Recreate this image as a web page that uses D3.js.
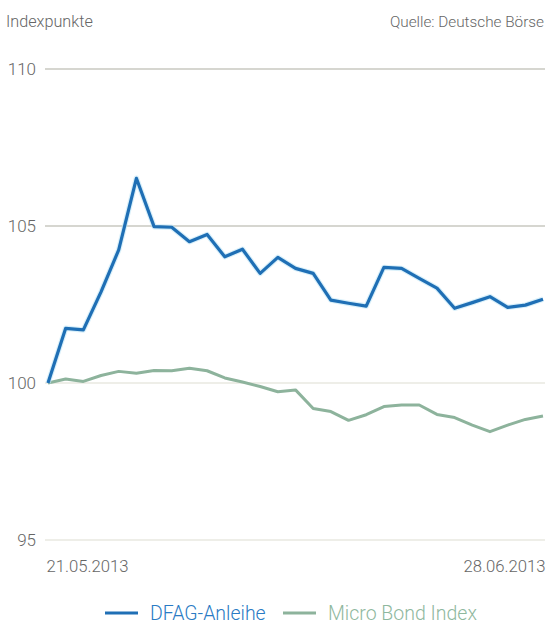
<!DOCTYPE html>
<html>
<head>
<meta charset="utf-8">
<script src="https://cdn.jsdelivr.net/npm/d3@7"></script>
<style>
  html, body { margin: 0; padding: 0; background: #fff; }
  svg { display: block; }
  text { font-family: Roboto, "Open Sans", sans-serif; font-weight: 300; }
</style>
</head>
<body>
<svg id="chart" width="548" height="624"></svg>
<script>
// Trading days 21.05.2013 – 28.06.2013 (29 sessions)
const dates = [
  "21.05.2013","22.05.2013","23.05.2013","24.05.2013","27.05.2013","28.05.2013",
  "29.05.2013","30.05.2013","31.05.2013","03.06.2013","04.06.2013","05.06.2013",
  "06.06.2013","07.06.2013","10.06.2013","11.06.2013","12.06.2013","13.06.2013",
  "14.06.2013","17.06.2013","18.06.2013","19.06.2013","20.06.2013","21.06.2013",
  "24.06.2013","25.06.2013","26.06.2013","27.06.2013","28.06.2013"
];
const dfag = [
  100.0, 101.74, 101.69, 102.9, 104.24, 106.52, 104.98, 104.96, 104.5, 104.73,
  104.02, 104.26, 103.49, 104.0, 103.65, 103.49, 102.64, 102.54, 102.45, 103.68,
  103.65, 103.33, 103.02, 102.38, 102.56, 102.75, 102.41, 102.48, 102.67
];
const microBond = [
  100.0, 100.13, 100.05, 100.24, 100.37, 100.31, 100.4, 100.39, 100.47, 100.39,
  100.16, 100.03, 99.89, 99.72, 99.78, 99.19, 99.09, 98.81, 98.99, 99.25,
  99.3, 99.3, 99.0, 98.9, 98.66, 98.45, 98.66, 98.84, 98.95
];
const yTicks = [95, 100, 105, 110];
const xTickLabels = ["21.05.2013", "28.06.2013"];
const seriesNames = ["DFAG-Anleihe", "Micro Bond Index"];
const seriesColors = ["#1f6fb5", "#8db39c"];

const svg = d3.select("#chart");
const left = 48, right = 543;

const x = d3.scalePoint().domain(dates).range([left, right]);
const y = d3.scaleLinear().domain([95, 110]).range([540, 69]);

// horizontal grid lines
const gridColor = v => (v === 110 || v === 105) ? "#d6d6d0" : "#eeeee8";
svg.append("g").selectAll("line").data(yTicks).join("line")
  .attr("x1", 45).attr("x2", 545)
  .attr("y1", d => y(d)).attr("y2", d => y(d))
  .attr("stroke", gridColor).attr("stroke-width", 2);

// y axis labels
const yAxis = d3.axisLeft(y).tickValues(yTicks).tickSize(0).tickPadding(0);
const gy = svg.append("g").attr("transform", "translate(36,0)").call(yAxis);
gy.select(".domain").remove();
gy.selectAll("text").attr("font-size", 17).attr("fill", "#666")
  .attr("font-family", "Roboto, \"Open Sans\", sans-serif").attr("font-weight", 300);

// x axis: first and last date only
const xAxis = d3.axisBottom(x).tickValues(xTickLabels).tickSize(0).tickPadding(0);
const gx = svg.append("g").attr("transform", "translate(0,560)").call(xAxis);
gx.select(".domain").remove();
gx.selectAll("text").attr("font-size", 16.7).attr("fill", "#666")
  .attr("font-family", "Roboto, \"Open Sans\", sans-serif").attr("font-weight", 300)
  .attr("text-anchor", (d, i) => i === 0 ? "start" : "end")
  .attr("dx", (d, i) => i === 0 ? -2 : 2);

// header texts
svg.append("text").attr("x", 6).attr("y", 27).attr("font-size", 16.2).attr("fill", "#666")
  .text("Indexpunkte");
svg.append("text").attr("x", 544).attr("y", 27).attr("font-size", 15.3).attr("fill", "#666")
  .attr("text-anchor", "end").text("Quelle: Deutsche Börse");

// lines
const line = d3.line().x((d, i) => x(dates[i])).y(d => y(d));
svg.append("path").datum(microBond)
  .attr("fill", "none").attr("stroke", seriesColors[1]).attr("stroke-width", 3)
  .attr("stroke-linejoin", "round").attr("d", line);
svg.append("path").datum(dfag)
  .attr("fill", "none").attr("stroke", "#bfe6f7").attr("stroke-width", 5.5)
  .attr("stroke-linejoin", "round").attr("opacity", 0.6).attr("d", line);
svg.append("path").datum(dfag)
  .attr("fill", "none").attr("stroke", seriesColors[0]).attr("stroke-width", 3.2)
  .attr("stroke-linejoin", "round").attr("d", line);

// legend
const legendItems = [
  { name: seriesNames[0], color: seriesColors[0], text: "#2a7bc4", x: 105 },
  { name: seriesNames[1], color: seriesColors[1], text: "#8fb89e", x: 283 }
];
const lg = svg.append("g").selectAll("g").data(legendItems).join("g")
  .attr("transform", d => `translate(${d.x},613)`);
lg.append("line").attr("x1", 0).attr("x2", 33).attr("y1", 0).attr("y2", 0)
  .attr("stroke", d => d.color).attr("stroke-width", 3);
lg.append("text").attr("x", 45).attr("y", 7).attr("font-size", 19.5)
  .attr("fill", d => d.text).text(d => d.name);
</script>
</body>
</html>
